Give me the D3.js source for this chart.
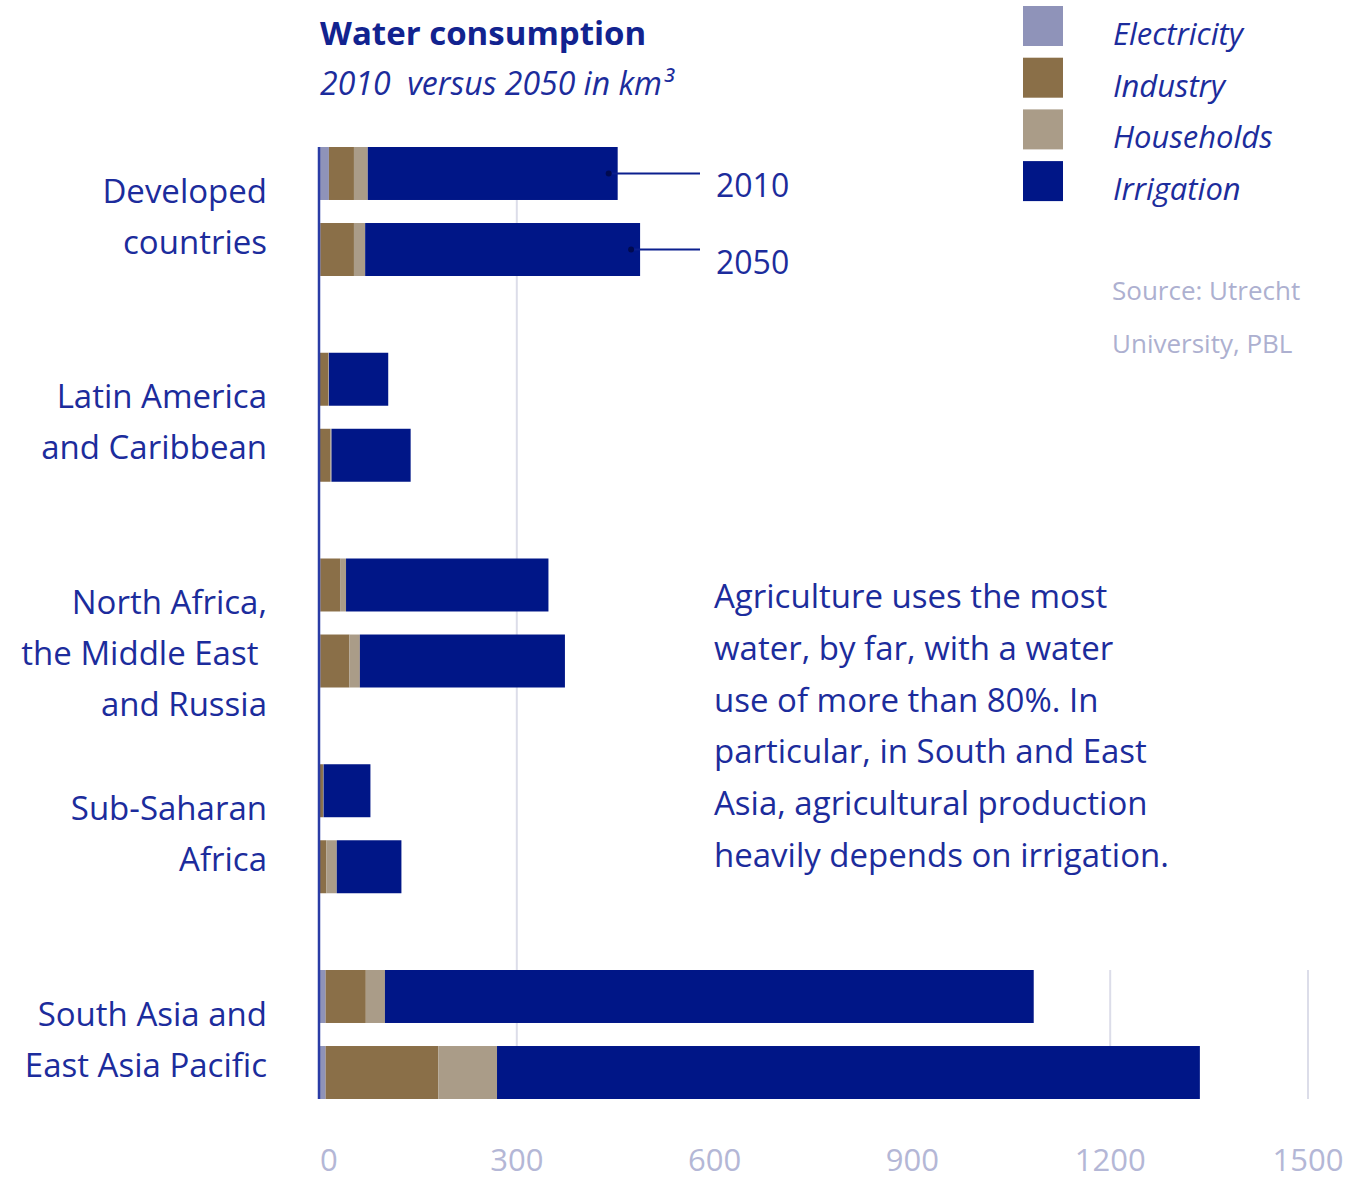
<!DOCTYPE html>
<html>
<head>
<meta charset="utf-8">
<script src="https://cdn.jsdelivr.net/npm/d3@7"></script>
<style>
  body { margin: 0; background: #fff; }
  svg text { font-family: "Open Sans", "Noto Sans", sans-serif; }
</style>
</head>
<body>
<svg id="chart" width="1348" height="1181"></svg>
<script>
// regions, each with its label lines
const regions = ["Developed", "LatinAmerica", "NorthAfrica", "SubSahara", "SouthAsia"];
const regionLabels = [
    ["Developed", "countries"],
    ["Latin America", "and Caribbean"],
    ["North Africa,", "the Middle East ", "and Russia"],
    ["Sub-Saharan", "Africa"],
    ["South Asia and", "East Asia Pacific"]
];
const years = ["2010", "2050"];
const sectors = ["Electricity", "Industry", "Households", "Irrigation"];

// values in km3, per region: [2010, 2050]
const electricity = [[15, 2], [1, 1], [2, 2], [1, 1], [10, 10]];
const industry    = [[38, 51], [13, 16], [30, 44], [5, 10], [61, 171]];
const households  = [[21, 17], [1, 2], [9, 16], [1, 16], [29, 89]];
const irrigation  = [[379, 417], [90, 120], [307, 311], [71, 98], [984, 1066]];

const xTicks = [0, 300, 600, 900, 1200, 1500];

const annotation = [
    "Agriculture uses the most",
    "water, by far, with a water",
    "use of more than 80%. In",
    "particular, in South and East",
    "Asia, agricultural production",
    "heavily depends on irrigation."
];
const sourceLines = ["Source: Utrecht", "University, PBL"];

const colors = ["#8f93b9", "#8a6f48", "#aa9c88", "#001687"];
const textBlue = "#1c2c9c";

// flatten to rows for the stack
const rows = [];
regions.forEach((r, i) => {
    years.forEach((y, j) => {
        rows.push({
            region: r, year: y,
            Electricity: electricity[i][j],
            Industry: industry[i][j],
            Households: households[i][j],
            Irrigation: irrigation[i][j]
        });
    });
});

const svg = d3.select("#chart");

const x = d3.scaleLinear().domain([0, 1500]).range([319, 1308]);

const y0 = d3.scaleBand()
    .domain(regions)
    .range([147, 147 + 5 * 205.75]);

const y1 = d3.scaleBand()
    .domain(years)
    .range([0, 129])
    .paddingInner(0.303);

const color = d3.scaleOrdinal().domain(sectors).range(colors);

const plotBottom = y0(regions[4]) + 129;

// gridlines (only some visible in the original)
svg.append("line")
    .attr("x1", x(300)).attr("x2", x(300))
    .attr("y1", y0(regions[0])).attr("y2", plotBottom)
    .attr("stroke", "#dcdde9").attr("stroke-width", 2);
[1200, 1500].forEach(t => {
    svg.append("line")
        .attr("x1", x(t)).attr("x2", x(t))
        .attr("y1", y0(regions[4])).attr("y2", plotBottom)
        .attr("stroke", "#dcdde9").attr("stroke-width", 2);
});

// stacked bars
const stack = d3.stack().keys(sectors);
const series = stack(rows);

svg.append("g")
    .selectAll("g")
    .data(series)
    .enter()
    .append("g")
    .attr("fill", d => color(d.key))
    .selectAll("rect")
    .data(d => d)
    .enter()
    .append("rect")
    .attr("x", d => x(d[0]))
    .attr("width", d => x(d[1]) - x(d[0]))
    .attr("y", d => y0(d.data.region) + y1(d.data.year))
    .attr("height", y1.bandwidth());

// vertical axis line
svg.append("line")
    .attr("x1", x(0)).attr("x2", x(0))
    .attr("y1", y0(regions[0])).attr("y2", plotBottom)
    .attr("stroke", "#2a3ca6").attr("stroke-width", 2.5);

// x tick labels
svg.append("g")
    .selectAll("text")
    .data(xTicks)
    .enter()
    .append("text")
    .attr("x", d => d === 0 ? x(0) + 1 : x(d))
    .attr("y", 1171)
    .attr("text-anchor", d => d === 0 ? "start" : "middle")
    .attr("fill", "#b4b7d6")
    .style("font-size", "31px")
    .text(d => d);

// region labels
regions.forEach((r, i) => {
    const center = y0(r) + 129 / 2;
    svg.append("text")
        .attr("text-anchor", "end")
        .attr("fill", textBlue)
        .style("font-size", "33px")
        .selectAll("tspan")
        .data(regionLabels[i])
        .enter()
        .append("tspan")
        .attr("x", 267)
        .attr("y", (d, k) => center - 9 + k * 51)
        .style("white-space", "pre")
        .text(d => d);
});

// year callouts on first group
years.forEach(yr => {
    const row = rows.find(d => d.region === regions[0] && d.year === yr);
    const total = sectors.reduce((s, k) => s + row[k], 0);
    const cy = y0(regions[0]) + y1(yr) + y1.bandwidth() / 2;
    svg.append("line")
        .attr("x1", x(total) - 9).attr("x2", 700)
        .attr("y1", cy).attr("y2", cy)
        .attr("stroke", "#0b1f8e").attr("stroke-width", 2);
    svg.append("circle")
        .attr("cx", x(total) - 9).attr("cy", cy).attr("r", 3)
        .attr("fill", "#000a50");
    svg.append("text")
        .attr("x", 716).attr("y", cy + 24)
        .attr("fill", textBlue)
        .style("font-size", "32px")
        .text(yr);
});

// title
svg.append("text")
    .attr("x", 320).attr("y", 45)
    .attr("fill", "#12238f")
    .style("font-size", "33px")
    .style("font-weight", "bold")
    .text("Water consumption");
svg.append("text")
    .attr("x", 320).attr("y", 95)
    .attr("fill", textBlue)
    .style("font-size", "32px")
    .style("font-style", "italic")
    .style("white-space", "pre")
    .text("2010  versus 2050 in km³");

// legend
const legend = svg.append("g");
sectors.forEach((s, i) => {
    legend.append("rect")
        .attr("x", 1023).attr("y", 6 + i * 51.7)
        .attr("width", 40).attr("height", 40)
        .attr("fill", color(s));
    legend.append("text")
        .attr("x", 1113).attr("y", 45 + i * 51.7)
        .attr("fill", textBlue)
        .style("font-size", "31px")
        .style("font-style", "italic")
        .text(s);
});

// source
sourceLines.forEach((t, i) => {
    svg.append("text")
        .attr("x", 1112).attr("y", 300 + i * 53)
        .attr("fill", "#adb0d0")
        .style("font-size", "26px")
        .text(t);
});

// annotation
svg.append("text")
    .attr("fill", textBlue)
    .style("font-size", "33px")
    .selectAll("tspan")
    .data(annotation)
    .enter()
    .append("tspan")
    .attr("x", 714)
    .attr("y", (d, i) => 608 + i * 51.8)
    .text(d => d);
</script>
</body>
</html>
